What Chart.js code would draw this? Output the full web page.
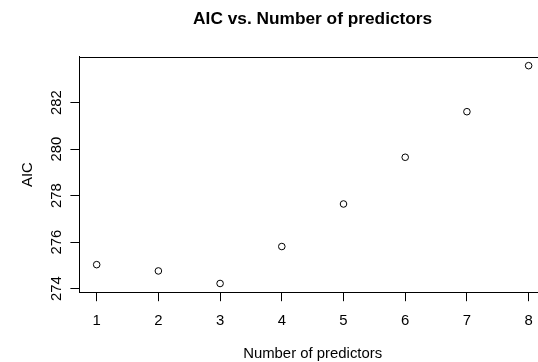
<!DOCTYPE html>
<html>
<head>
<meta charset="utf-8">
<script src="https://cdn.jsdelivr.net/npm/chart.js@4/dist/chart.umd.min.js"></script>
<style>
  html, body { margin: 0; padding: 0; background: #fff; overflow: hidden; }
  #wrap { width: 538px; height: 362px; overflow: hidden; position: relative; }
  canvas { display: block; }
</style>
</head>
<body>
<div id="wrap"><canvas id="c" width="587" height="372"></canvas></div>
<script>
const predictors = [1, 2, 3, 4, 5, 6, 7, 8];
const aicValues = [275.03, 274.76, 274.22, 275.81, 277.64, 279.65, 281.61, 283.59];
const xTicks = [1, 2, 3, 4, 5, 6, 7, 8];
const yTicks = [274, 276, 278, 280, 282];
const titleText = 'AIC vs. Number of predictors';
const xLabel = 'Number of predictors';
const yLabel = 'AIC';

const FONT = "'Liberation Sans', Arial, Helvetica, sans-serif";

// R-style 4% axis extension
function ext(vals) {
  const mn = Math.min(...vals), mx = Math.max(...vals), d = (mx - mn) * 0.04;
  return [mn - d, mx + d];
}
const [xMin, xMax] = ext(predictors);
const [yMin, yMax] = ext(aicValues);

const boxPlugin = {
  id: 'box',
  afterDraw(chart) {
    const {ctx, chartArea: a} = chart;
    ctx.save();
    ctx.strokeStyle = '#000';
    ctx.lineWidth = 1;
    ctx.strokeRect(Math.round(a.left) + 0.5, Math.round(a.top) + 0.5,
                   Math.round(a.right - a.left), Math.round(a.bottom - a.top));
    ctx.restore();
  }
};

new Chart(document.getElementById('c'), {
  type: 'scatter',
  data: {
    datasets: [{
      data: predictors.map((x, i) => ({x: x, y: aicValues[i]})),
      pointStyle: 'circle',
      pointRadius: 3.3,
      pointBorderWidth: 1,
      pointBorderColor: '#000',
      pointBackgroundColor: 'rgba(0,0,0,0)',
      showLine: false
    }]
  },
  options: {
    responsive: false,
    animation: false,
    events: [],
    layout: { padding: { left: 0, right: 41.1, top: 0, bottom: 0 } },
    plugins: {
      legend: { display: false },
      tooltip: { enabled: false },
      title: {
        display: true,
        text: titleText,
        fullSize: false,
        color: '#000',
        font: { family: FONT, size: 17.3, weight: 'bold', lineHeight: 1.2 },
        padding: { top: 9.3, bottom: 26.9 }
      }
    },
    scales: {
      x: {
        type: 'linear',
        position: 'bottom',
        min: xMin,
        max: xMax,
        afterBuildTicks: s => { s.ticks = xTicks.map(v => ({value: v})); },
        afterFit: s => { s.height = 79.8; },
        grid: { display: true, drawOnChartArea: false, drawTicks: true, tickLength: 9, color: '#000', lineWidth: 1 },
        border: { display: true, color: '#000', width: 1 },
        ticks: {
          color: '#000',
          font: { family: FONT, size: 14.9 },
          padding: 10.4,
          maxRotation: 0, minRotation: 0,
          autoSkip: false
        },
        title: {
          display: true,
          text: xLabel,
          color: '#000',
          font: { family: FONT, size: 14.9 },
          padding: { top: 0, bottom: 9.3 }
        }
      },
      y: {
        type: 'linear',
        position: 'left',
        min: yMin,
        max: yMax,
        afterBuildTicks: s => { s.ticks = yTicks.map(v => ({value: v})); },
        afterFit: s => { s.width = 79.4; },
        grid: { display: true, drawOnChartArea: false, drawTicks: true, tickLength: 9, color: '#000', lineWidth: 1 },
        border: { display: true, color: '#000', width: 1 },
        ticks: {
          color: '#000',
          font: { family: FONT, size: 14.9 },
          padding: 1.5,
          minRotation: 90, maxRotation: 90,
          crossAlign: 'center',
          autoSkip: false
        },
        title: {
          display: true,
          text: yLabel,
          color: '#000',
          font: { family: FONT, size: 14.9 },
          padding: { top: 19, bottom: 0 }
        }
      }
    }
  },
  plugins: [boxPlugin]
});
</script>
</body>
</html>
